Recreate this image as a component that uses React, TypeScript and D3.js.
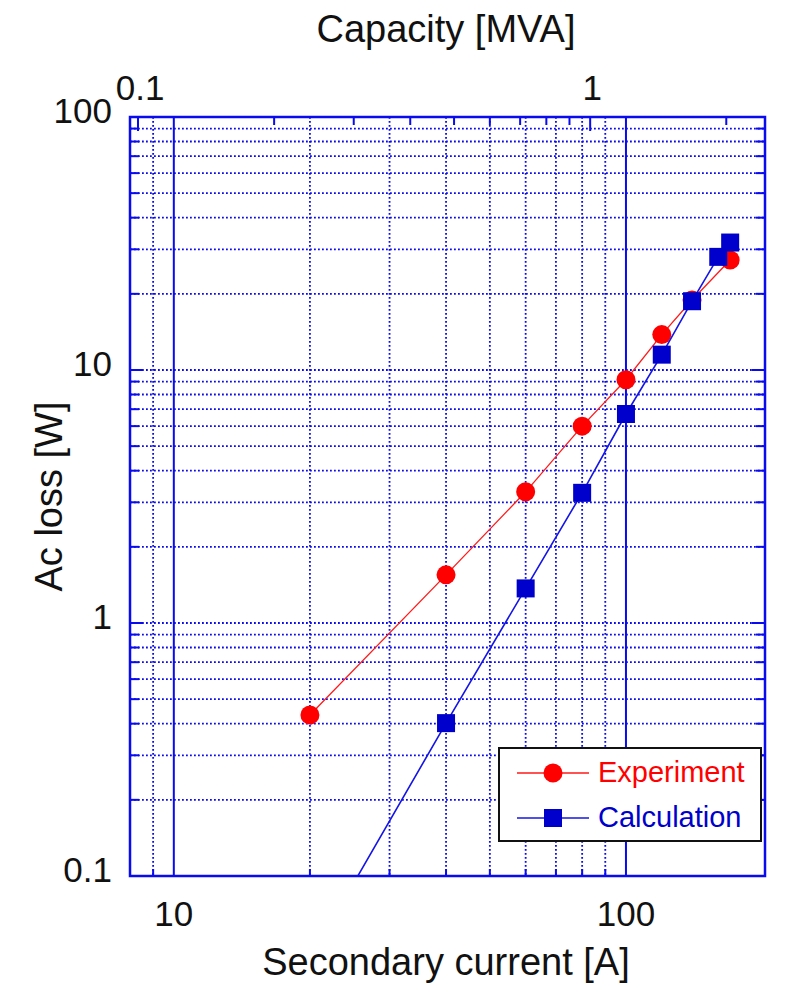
import React from 'react';
import * as d3 from 'd3';

// Secondary current [A] vs Ac loss [W]
const expCurrent = [20, 40, 60, 80, 100, 120, 140, 170];
const expLoss = [0.433, 1.55, 3.3, 6.0, 9.15, 13.8, 18.9, 27.2];
const calcCurrent = [20, 40, 60, 80, 100, 120, 140, 160, 170];
const calcLoss = [0.047, 0.402, 1.37, 3.27, 6.7, 11.5, 18.7, 28.0, 31.9];

const xMajorTicks = [10, 100];
const xMinorTicks = [9, 20, 30, 40, 50, 60, 70, 80, 90];
const yMajorTicks = [0.1, 1, 10, 100];
const yMinorTicks = [
  0.2, 0.3, 0.4, 0.5, 0.6, 0.7, 0.8, 0.9,
  2, 3, 4, 5, 6, 7, 8, 9,
  20, 30, 40, 50, 60, 70, 80, 90,
];
const capMajorTicks = [0.1, 1];
const capMinorTicks = [0.2, 0.3, 0.4, 0.5, 0.6, 0.7, 0.8, 0.9, 2];
const mvaPerAmp = 0.012;

const W = 802;
const H = 1008;
const margin = { top: 117, right: 37, bottom: 132, left: 130 };
const FONT = '"Liberation Sans", Arial, Helvetica, sans-serif';
const BLUE = '#0a0af0';

const App = () => {
  const x = d3.scaleLog().domain([8, 203]).range([margin.left, W - margin.right]);
  const y = d3.scaleLog().domain([0.1, 100]).range([H - margin.bottom, margin.top]);
  const xCap = d3.scaleLog()
    .domain(x.domain().map(d => d * mvaPerAmp))
    .range(x.range());

  const [x0, x1] = x.range();
  const [y1, y0] = y.range();

  const line = d3.line<[number, number]>()
    .x(d => x(d[0]))
    .y(d => y(d[1]));

  const expPts = expCurrent.map((c, i) => [c, expLoss[i]] as [number, number]);
  const calcPts = calcCurrent.map((c, i) => [c, calcLoss[i]] as [number, number]);
  const fmt = (d: number) => String(d);
  const sq = 18;

  return (
    <div style={{ position: 'absolute', left: 0, top: 0 }}>
      <svg width={W} height={H} style={{ display: 'block', background: '#fff' }}>
        <defs>
          <clipPath id="plotClip">
            <rect x={x0} y={y0} width={x1 - x0} height={y1 - y0} />
          </clipPath>
        </defs>

        {/* dotted grid */}
        <g stroke={BLUE} strokeWidth={1.8} strokeDasharray="1.8,2.2" fill="none">
          {xMinorTicks.map(t => (
            <line key={'gx' + t} x1={x(t)} x2={x(t)} y1={y0} y2={y1} />
          ))}
          {[...yMinorTicks, ...yMajorTicks.slice(1, 3)].map(t => (
            <line key={'gy' + t} x1={x0} x2={x1} y1={y(t)} y2={y(t)} />
          ))}
        </g>
        {/* solid decade lines */}
        <g stroke={BLUE} strokeWidth={2}>
          {xMajorTicks.map(t => (
            <line key={'mx' + t} x1={x(t)} x2={x(t)} y1={y0} y2={y1} />
          ))}
        </g>

        {/* ticks */}
        <g stroke={BLUE} strokeWidth={2}>
          {yMinorTicks.map(t => (
            <g key={'ty' + t}>
              <line x1={x0} x2={x0 + 9} y1={y(t)} y2={y(t)} />
              <line x1={x1} x2={x1 - 9} y1={y(t)} y2={y(t)} />
            </g>
          ))}
          {yMajorTicks.map(t => (
            <g key={'tY' + t}>
              <line x1={x0} x2={x0 + 13} y1={y(t)} y2={y(t)} />
              <line x1={x1} x2={x1 - 13} y1={y(t)} y2={y(t)} />
            </g>
          ))}
          {xMinorTicks.map(t => (
            <line key={'tx' + t} x1={x(t)} x2={x(t)} y1={y1} y2={y1 - 7} />
          ))}
          {capMinorTicks.map(t => (
            <line key={'tc' + t} x1={xCap(t)} x2={xCap(t)} y1={y0} y2={y0 + 8} />
          ))}
          {capMajorTicks.map(t => (
            <line key={'tC' + t} x1={xCap(t)} x2={xCap(t)} y1={y0} y2={y0 + 14} />
          ))}
        </g>

        {/* series */}
        <g clipPath="url(#plotClip)">
          <path d={line(expPts) || ''} fill="none" stroke="#ff1a1a" strokeWidth={1.3} />
          {expPts.map((d, i) => (
            <circle key={'e' + i} cx={x(d[0])} cy={y(d[1])} r={9.5} fill="#ff0000" />
          ))}
          <path d={line(calcPts) || ''} fill="none" stroke="#1414e6" strokeWidth={1.6} />
          {calcPts.map((d, i) => (
            <rect key={'c' + i} x={x(d[0]) - sq / 2} y={y(d[1]) - sq / 2}
              width={sq} height={sq} fill="#0000cc" />
          ))}
        </g>

        {/* frame */}
        <rect x={x0} y={y0} width={x1 - x0} height={y1 - y0}
          fill="none" stroke={BLUE} strokeWidth={2.5} />

        {/* tick labels */}
        <g fontFamily={FONT} fontSize={35} fill="#111">
          {xMajorTicks.map(t => (
            <text key={'lx' + t} x={x(t)} y={926} textAnchor="middle">{fmt(t)}</text>
          ))}
          {yMajorTicks.map(t => (
            <text key={'ly' + t} x={112} y={y(t) + 6} textAnchor="end">{fmt(t)}</text>
          ))}
          {capMajorTicks.map(t => (
            <text key={'lc' + t} x={xCap(t) + 2} y={100} textAnchor="middle">{fmt(t)}</text>
          ))}
        </g>

        {/* axis titles */}
        <g fontFamily={FONT} fontSize={38} fill="#111">
          <text x={446} y={975} textAnchor="middle">Secondary current [A]</text>
          <text x={446} y={42} textAnchor="middle">Capacity [MVA]</text>
          <text transform={`translate(62,${(y0 + y1) / 2}) rotate(-90)`} textAnchor="middle">
            Ac loss [W]
          </text>
        </g>

        {/* legend */}
        <g>
          <rect x={499} y={748} width={262} height={93} fill="#fff" stroke="#111" strokeWidth={2} />
          <line x1={517} x2={589} y1={773} y2={773} stroke="#ff1a1a" strokeWidth={1.3} />
          <circle cx={553} cy={773} r={9.5} fill="#ff0000" />
          <line x1={517} x2={589} y1={818} y2={818} stroke="#1414e6" strokeWidth={1.6} />
          <rect x={553 - sq / 2} y={818 - sq / 2} width={sq} height={sq} fill="#0000cc" />
          <text x={598} y={782} fontFamily={FONT} fontSize={29} fill="#ff0000">Experiment</text>
          <text x={598} y={827} fontFamily={FONT} fontSize={29} fill="#0000cc">Calculation</text>
        </g>
      </svg>
    </div>
  );
};

export default App;
